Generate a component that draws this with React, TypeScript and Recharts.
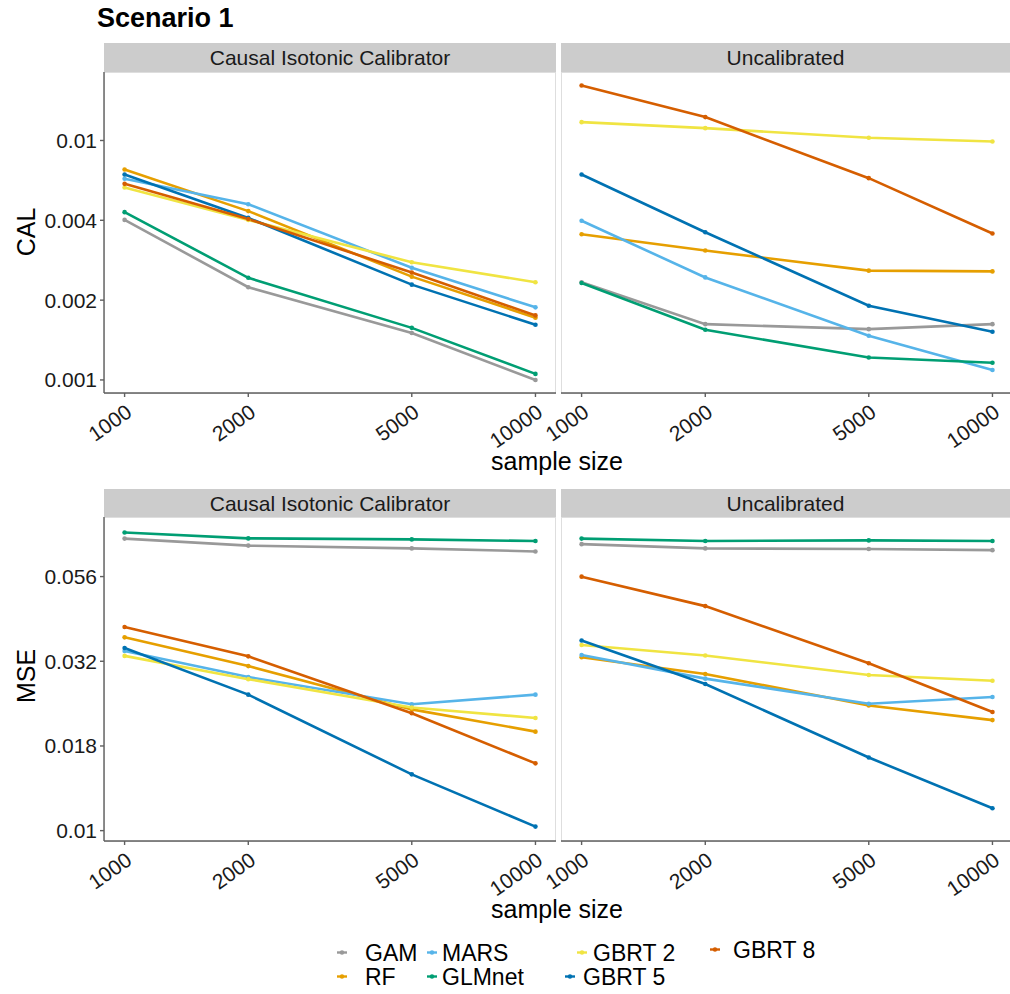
import { LineChart, Line, XAxis, YAxis } from "recharts"

const SAMPLE_SIZES = [1000, 2000, 5000, 10000]
const METHODS = ["GAM", "RF", "MARS", "GLMnet", "GBRT 2", "GBRT 5", "GBRT 8"]
const COLORS = ["#999999", "#E69F00", "#56B4E9", "#009E73", "#F0E442", "#0072B2", "#D55E00"]

// rows follow METHODS, columns follow SAMPLE_SIZES
const CAL_CALIBRATED = [
  [0.00466, 0.00244, 0.00157, 0.001],
  [0.00756, 0.00507, 0.0027, 0.00182],
  [0.00692, 0.00542, 0.00294, 0.00201],
  [0.00502, 0.00267, 0.00165, 0.00106],
  [0.00636, 0.00466, 0.0031, 0.00256],
  [0.00721, 0.00475, 0.0025, 0.0017],
  [0.00659, 0.0047, 0.00281, 0.00186],
]
const CAL_UNCALIBRATED = [
  [0.00256, 0.00171, 0.00163, 0.00171],
  [0.00406, 0.00347, 0.00286, 0.00284],
  [0.00462, 0.00268, 0.00153, 0.0011],
  [0.00254, 0.00162, 0.00124, 0.00118],
  [0.01193, 0.01126, 0.01026, 0.0099],
  [0.00721, 0.00414, 0.00204, 0.00159],
  [0.01698, 0.01252, 0.00696, 0.00409],
]
const MSE_CALIBRATED = [
  [0.0728, 0.0694, 0.0681, 0.0667],
  [0.0372, 0.0306, 0.0228, 0.0196],
  [0.0339, 0.0284, 0.0236, 0.0252],
  [0.0759, 0.0729, 0.0724, 0.0716],
  [0.0328, 0.028, 0.0231, 0.0215],
  [0.0346, 0.0252, 0.01466, 0.01028],
  [0.0399, 0.0327, 0.0222, 0.0158],
]
const MSE_UNCALIBRATED = [
  [0.0701, 0.0681, 0.0678, 0.0673],
  [0.0325, 0.029, 0.0234, 0.0212],
  [0.033, 0.0281, 0.0237, 0.0248],
  [0.0728, 0.0716, 0.0719, 0.0716],
  [0.0353, 0.0329, 0.0288, 0.0277],
  [0.0364, 0.0271, 0.01644, 0.01164],
  [0.0562, 0.046, 0.0312, 0.0224],
]

const CAL_TICKS = [0.001, 0.002154, 0.004642, 0.01]
const CAL_TICK_LABELS = ["0.001", "0.002", "0.004", "0.01"]
const MSE_TICKS = [0.01, 0.01778, 0.03162, 0.05623]
const MSE_TICK_LABELS = ["0.01", "0.018", "0.032", "0.056"]
const STRIPS = ["Causal Isotonic Calibrator", "Uncalibrated"]

const X_DOMAIN = [891, 11220]
const CAL_DOMAIN = [0.000882, 0.01932]
const MSE_DOMAIN = [0.00932, 0.0843]

const FONT = '"Liberation Sans", Arial, Helvetica, sans-serif'
const AXIS = "#5f5f5f"

function toRows(matrix: number[][]) {
  return SAMPLE_SIZES.map((n, i) => {
    const row: Record<string, number> = { n }
    METHODS.forEach((m, k) => {
      row[m] = matrix[k][i]
    })
    return row
  })
}

function XTick({ x, y, payload }: any) {
  return (
    <g transform={`translate(${x},${y})`}>
      <text
        transform="rotate(-35)"
        textAnchor="end"
        dy="0.72em"
        fontSize={21}
        fontFamily={FONT}
        fill="#1a1a1a"
      >
        {payload.value}
      </text>
    </g>
  )
}

type FacetProps = {
  matrix: number[][]
  left: number
  top: number
  width: number
  padLeft: number
  plotHeight: number
  showY: boolean
  yDomain: number[]
  yTicks: number[]
  yLabels: string[]
}

function Facet({ matrix, left, top, width, padLeft, plotHeight, showY, yDomain, yTicks, yLabels }: FacetProps) {
  const data = toRows(matrix)
  return (
    <div style={{ position: "absolute", left, top }}>
      <LineChart
        width={width}
        height={plotHeight + 70}
        data={data}
        margin={{ top: 0, right: 0, bottom: 0, left: padLeft }}
      >
        <XAxis
          dataKey="n"
          type="number"
          scale="log"
          domain={X_DOMAIN}
          ticks={SAMPLE_SIZES}
          allowDataOverflow
          interval={0}
          height={70}
          tickSize={4}
          tickMargin={6}
          stroke={AXIS}
          strokeWidth={1.4}
          tick={<XTick />}
        />
        <YAxis
          type="number"
          scale="log"
          domain={yDomain}
          ticks={yTicks}
          allowDataOverflow
          interval={0}
          hide={!showY}
          width={104}
          tickSize={4}
          tickMargin={3}
          stroke={AXIS}
          strokeWidth={1.4}
          tick={{ fontSize: 21, fontFamily: FONT, fill: "#1a1a1a" }}
          tickFormatter={(v: number) => yLabels[yTicks.indexOf(v)] ?? String(v)}
        />
        {METHODS.map((m, k) => (
          <Line
            key={m}
            dataKey={m}
            type="linear"
            stroke={COLORS[k]}
            strokeWidth={2.6}
            dot={{ r: 2.3, fill: COLORS[k], stroke: COLORS[k], strokeWidth: 0 }}
            isAnimationActive={false}
          />
        ))}
      </LineChart>
    </div>
  )
}

// legend positions: [key left, text left, baseline]
const LEGEND_POS = [
  [337, 365, 961],
  [337, 365, 985],
  [427, 442, 961],
  [427, 442, 985],
  [577, 593, 961],
  [565, 583, 985],
  [710, 733, 958],
]

export default function App() {
  const rows = [
    { top: 72, plotHeight: 321, stripTop: 43, cal: true },
    { top: 517, plotHeight: 324, stripTop: 489, cal: false },
  ]
  const cols = [
    { left: 0, width: 556, padLeft: 0, plotLeft: 104, plotWidth: 452 },
    { left: 491, width: 522, padLeft: 70, plotLeft: 561, plotWidth: 452 },
  ]
  const mats = [
    [CAL_CALIBRATED, CAL_UNCALIBRATED],
    [MSE_CALIBRATED, MSE_UNCALIBRATED],
  ]

  return (
    <div style={{ position: "relative", width: 1010, height: 994, overflow: "hidden", background: "#fff", fontFamily: FONT }}>
      <style>{"body{margin:0}"}</style>
      <svg width={1010} height={994} style={{ position: "absolute", left: 0, top: 0 }}>
        {rows.map((r, ri) =>
          cols.map((c, ci) => (
            <g key={`${ri}-${ci}`}>
              <rect x={c.plotLeft} y={r.stripTop} width={c.plotWidth} height={r.top - r.stripTop} fill="#CCCCCC" />
              <text
                x={c.plotLeft + c.plotWidth / 2 - (ci === 1 ? 1.5 : 0)}
                y={r.stripTop + (r.top - r.stripTop) / 2 + 7.5}
                textAnchor="middle"
                fontSize={21}
                fill="#1a1a1a"
              >
                {STRIPS[ci]}
              </text>
              <rect x={c.plotLeft + 0.5} y={r.top + 0.5} width={c.plotWidth - 1} height={r.plotHeight} fill="none" stroke="#DEDEDE" />
            </g>
          ))
        )}
      </svg>
      {rows.map((r, ri) =>
        cols.map((c, ci) => (
          <Facet
            key={`f-${ri}-${ci}`}
            matrix={mats[ri][ci]}
            left={c.left}
            top={r.top}
            width={c.width}
            padLeft={c.padLeft}
            plotHeight={r.plotHeight}
            showY={ci === 0}
            yDomain={r.cal ? CAL_DOMAIN : MSE_DOMAIN}
            yTicks={r.cal ? CAL_TICKS : MSE_TICKS}
            yLabels={r.cal ? CAL_TICK_LABELS : MSE_TICK_LABELS}
          />
        ))
      )}
      <svg width={1010} height={994} style={{ position: "absolute", left: 0, top: 0, pointerEvents: "none" }}>
        <text x={97} y={27} fontSize={27} fontWeight="bold" fill="#000">
          Scenario 1
        </text>
        <text transform="translate(35,232) rotate(-90)" textAnchor="middle" fontSize={25} fill="#000">
          CAL
        </text>
        <text transform="translate(35,676) rotate(-90)" textAnchor="middle" fontSize={25} fill="#000">
          MSE
        </text>
        <text x={557} y={470} textAnchor="middle" fontSize={25} fill="#000">
          sample size
        </text>
        <text x={557} y={918} textAnchor="middle" fontSize={25} fill="#000">
          sample size
        </text>
        {METHODS.map((m, k) => {
          const [kx, tx, by] = LEGEND_POS[k]
          const cy = by - 8.5
          return (
            <g key={m}>
              <line x1={kx} x2={kx + 10} y1={cy} y2={cy} stroke={COLORS[k]} strokeWidth={2.4} />
              <circle cx={kx + 5} cy={cy} r={2.2} fill={COLORS[k]} />
              <text x={tx} y={by} fontSize={23} fill="#000">
                {m}
              </text>
            </g>
          )
        })}
      </svg>
    </div>
  )
}
